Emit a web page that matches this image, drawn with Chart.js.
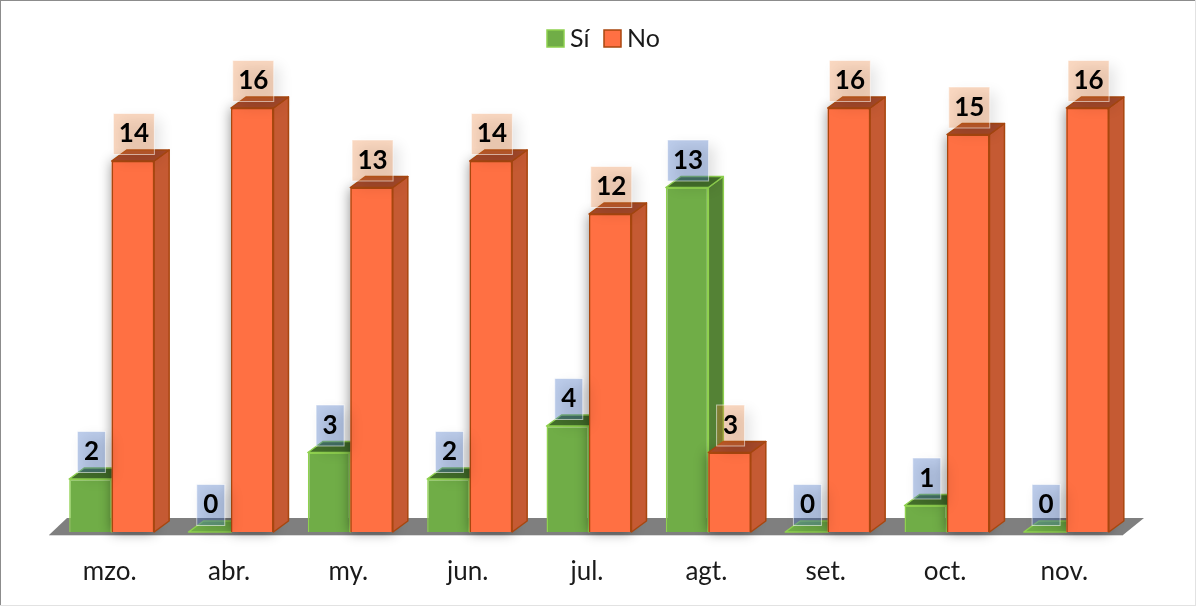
<!DOCTYPE html>
<html>
<head>
<meta charset="utf-8">
<script src="https://cdn.jsdelivr.net/npm/chart.js@4"></script>
<style>
    html, body { margin: 0; padding: 0; background: #fff; overflow: hidden; }
    #wrap { width: 1196px; height: 606px; }
</style>
</head>
<body>
<div id="wrap"><canvas id="chart"></canvas></div>
<script>
const categories = ['mzo.', 'abr.', 'my.', 'jun.', 'jul.', 'agt.', 'set.', 'oct.', 'nov.'];
const siValues = [2, 0, 3, 2, 4, 13, 0, 1, 0];
const noValues = [14, 16, 13, 14, 12, 3, 16, 15, 16];

// Farben pro Serie: Seite, Deckel, Kante, Label-Box
const looks = [
    { side: '#548235', top: '#44702b', line: '#8fd14f', box: 'rgba(68,114,196,0.36)' },
    { side: '#c55a33', top: '#a5492a', line: '#a8470f', box: 'rgba(237,125,49,0.30)' }
];
const DX = 15, DY = 11;

// Boden und Rahmen
const floorPlugin = {
    id: 'floor',
    beforeDatasetsDraw(chart) {
        const { ctx, chartArea: a } = chart;
        const y = chart.scales.y.getPixelForValue(0);
        ctx.save();
        ctx.fillStyle = '#7f7f7f';
        ctx.beginPath();
        ctx.moveTo(a.left - 3, y + 3);
        ctx.lineTo(a.left + 15, y - 14);
        ctx.lineTo(a.right + 18, y - 14);
        ctx.lineTo(a.right - 3, y + 3);
        ctx.closePath();
        ctx.fill();
        ctx.fillStyle = '#d9d9d9';
        ctx.fillRect(a.left - 3, y + 3, a.right - a.left, 1);
        ctx.restore();
    },
    afterDraw(chart) {
        const { ctx, width, height } = chart;
        ctx.save();
        ctx.fillStyle = '#8c8c8c';
        ctx.fillRect(0, 0, width, 1);
        ctx.fillRect(0, 0, 1, height);
        ctx.fillStyle = '#e2e2e2';
        ctx.fillRect(0, height - 1, width, 1);
        ctx.fillRect(width - 1, 0, 1, height);
        ctx.restore();
    }
};

// Legende von Hand, der Abstand Box-Text ist beim eingebauten Legend zu gross
const legendPlugin = {
    id: 'manualLegend',
    afterDraw(chart) {
        const { ctx } = chart;
        const starts = [547, 604];
        ctx.save();
        ctx.font = '25px Lato';
        ctx.textBaseline = 'middle';
        chart.data.datasets.forEach((ds, i) => {
            ctx.fillStyle = ds.backgroundColor;
            ctx.strokeStyle = ds.borderColor;
            ctx.lineWidth = 1.5;
            ctx.fillRect(starts[i], 30, 17, 17);
            ctx.strokeRect(starts[i], 30, 17, 17);
            ctx.fillStyle = '#1a1a1a';
            ctx.fillText(ds.label, starts[i] + 23, 38.5);
        });
        ctx.restore();
    }
};

const drawDepth = (chart, index) => {
    const { ctx } = chart;
    const look = looks[index];
    chart.getDatasetMeta(index).data.forEach((bar, j) => {
        const p = bar.getProps(['x', 'y', 'base', 'width'], true);
        const l = p.x - p.width / 2, r = p.x + p.width / 2;
        const flat = chart.data.datasets[index].data[j] === 0;
        ctx.save();
        // weicher Schatten nach links auf den Nachbarbalken
        if (index === 1) {
            ctx.save();
            ctx.shadowColor = 'rgba(0,0,0,0.45)';
            ctx.shadowBlur = 12;
            ctx.fillStyle = '#ff7043';
            ctx.fillRect(l, p.y, p.width, p.base - p.y);
            ctx.restore();
        }
        ctx.lineWidth = 1.5;
        ctx.lineJoin = 'round';
        ctx.strokeStyle = look.line;
        // Seite
        ctx.fillStyle = look.side;
        ctx.beginPath();
        ctx.moveTo(r, p.base);
        ctx.lineTo(r + DX, p.base - DY);
        ctx.lineTo(r + DX, p.y - DY);
        ctx.lineTo(r, p.y);
        ctx.closePath();
        ctx.fill();
        ctx.stroke();
        // Deckel, bei Wert 0 liegt er flach auf dem Boden
        ctx.fillStyle = flat ? '#70ad47' : look.top;
        ctx.beginPath();
        ctx.moveTo(l, p.y);
        ctx.lineTo(l + DX, p.y - DY);
        ctx.lineTo(r + DX, p.y - DY);
        ctx.lineTo(r, p.y);
        ctx.closePath();
        ctx.fill();
        ctx.stroke();
        ctx.restore();
    });
};

// Chart.js zeichnet Dataset 1 vor Dataset 0. Hier muss Grün aber unter Orange liegen,
// also Grün komplett vorziehen und den normalen Durchgang für Grün überspringen.
const depthPlugin = {
    id: 'depth',
    beforeDatasetDraw(chart, args) {
        if (args.index === 0) return false;
        drawDepth(chart, 0);
        chart.getDatasetMeta(0).data.forEach(bar => bar.draw(chart.ctx));
        drawDepth(chart, 1);
    }
};

// Wert-Labels mit halbtransparenter Box
const labelPlugin = {
    id: 'valueBoxes',
    afterDatasetsDraw(chart) {
        const { ctx } = chart;
        ctx.save();
        ctx.font = 'bold 26px Lato';
        ctx.textAlign = 'center';
        ctx.textBaseline = 'middle';
        chart.data.datasets.forEach((ds, i) => {
            chart.getDatasetMeta(i).data.forEach((bar, j) => {
                const text = String(ds.data[j]);
                const w = text.length > 1 ? 41 : 28;
                const cx = bar.x + 1, cy = bar.y - 27;
                ctx.save();
                ctx.shadowColor = 'rgba(0,0,0,0.35)';
                ctx.shadowBlur = 14;
                ctx.shadowOffsetX = 6;
                ctx.shadowOffsetY = 6;
                ctx.fillStyle = looks[i].box;
                ctx.fillRect(cx - w / 2, cy - 20.5, w, 41);
                ctx.restore();
                ctx.strokeStyle = 'rgba(255,255,255,0.55)';
                ctx.lineWidth = 1;
                ctx.strokeRect(cx - w / 2, cy - 20.5, w, 41);
                ctx.fillStyle = '#000';
                ctx.fillText(text, cx, cy);
            });
        });
        ctx.restore();
    }
};

new Chart(document.getElementById('chart'), {
    type: 'bar',
    data: {
        labels: categories,
        datasets: [
            { label: 'Sí', data: siValues, backgroundColor: '#70ad47', borderColor: '#8fd14f', borderWidth: 1.5 },
            { label: 'No', data: noValues, backgroundColor: '#ff7043', borderColor: '#a8470f', borderWidth: 1.5 }
        ]
    },
    options: {
        responsive: true,
        maintainAspectRatio: false,
        animation: false,
        layout: { padding: { left: 52, right: 70, top: 55, bottom: 19 } },
        datasets: { bar: { categoryPercentage: 0.712, barPercentage: 1 } },
        plugins: {
            tooltip: { enabled: false },
            legend: { display: false }
        },
        scales: {
            x: {
                grid: { display: false, drawTicks: false },
                border: { display: false },
                afterFit(scale) { scale.height = 55; },
                ticks: { padding: 24, labelOffset: -2, color: '#1a1a1a', font: { family: 'Lato', size: 26 }, maxRotation: 0 }
            },
            y: { display: false, min: 0, max: 18 }
        }
    },
    plugins: [floorPlugin, depthPlugin, labelPlugin, legendPlugin]
});
</script>
</body>
</html>
